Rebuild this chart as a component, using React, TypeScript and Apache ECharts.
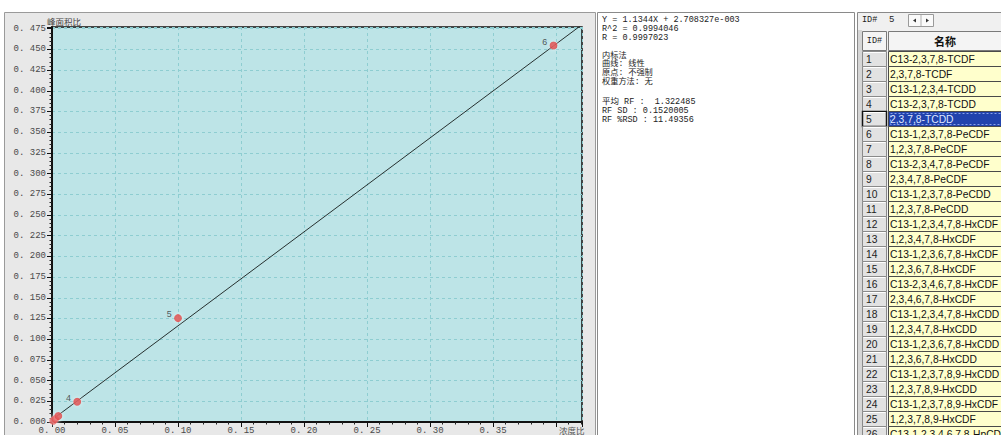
import React, { useEffect, useRef } from "react";
import * as echarts from "echarts";

// Calibration levels of 2,3,7,8-TCDD (concentration ratio vs. peak-area ratio)
const pointIds = ["1", "2", "3", "4", "5", "6"];
const concRatio = [0.001, 0.0025, 0.005, 0.02, 0.1, 0.398];
const areaRatio = [0.0015, 0.0035, 0.0072, 0.0245, 0.1254, 0.4546];

// Fitted regression: Y = slope * X + intercept
const slope = 1.1344;
const intercept = 2.708327e-3;

const X_MAX = 0.4206;
const Y_MAX = 0.477;
const X_STEP = 0.05;
const Y_STEP = 0.025;

const xTitle = "浓度比";
const yTitle = "峰面积比";

const fitLines = ["Y = 1.1344X + 2.708327e-003", "R^2 = 0.9994046", "R = 0.9997023"];
const methodLines = ["内标法", "曲线: 线性", "原点: 不强制", "权重方法: 无"];
const rfLines = ["平均 RF :  1.322485", "RF SD : 0.1520005", "RF %RSD : 11.49356"];

const compoundNames = [
  "C13-2,3,7,8-TCDF",
  "2,3,7,8-TCDF",
  "C13-1,2,3,4-TCDD",
  "C13-2,3,7,8-TCDD",
  "2,3,7,8-TCDD",
  "C13-1,2,3,7,8-PeCDF",
  "1,2,3,7,8-PeCDF",
  "C13-2,3,4,7,8-PeCDF",
  "2,3,4,7,8-PeCDF",
  "C13-1,2,3,7,8-PeCDD",
  "1,2,3,7,8-PeCDD",
  "C13-1,2,3,4,7,8-HxCDF",
  "1,2,3,4,7,8-HxCDF",
  "C13-1,2,3,6,7,8-HxCDF",
  "1,2,3,6,7,8-HxCDF",
  "C13-2,3,4,6,7,8-HxCDF",
  "2,3,4,6,7,8-HxCDF",
  "C13-1,2,3,4,7,8-HxCDD",
  "1,2,3,4,7,8-HxCDD",
  "C13-1,2,3,6,7,8-HxCDD",
  "1,2,3,6,7,8-HxCDD",
  "C13-1,2,3,7,8,9-HxCDD",
  "1,2,3,7,8,9-HxCDD",
  "C13-1,2,3,7,8,9-HxCDF",
  "1,2,3,7,8,9-HxCDF",
  "C13-1,2,3,4,6,7,8-HpCDF",
];
const selectedId = 5;

const MONO = "'Liberation Mono', 'Noto Sans CJK SC', monospace";
const CJK = "'Noto Sans CJK SC', sans-serif";
const SANS = "'Liberation Sans', Arial, sans-serif";

function fmtTick(v: number, step: number, digits: number, lastIndex: number) {
  const k = Math.round(v / step);
  if (Math.abs(v - k * step) > 1e-7 || k > lastIndex) return "";
  return (k * step).toFixed(digits).replace(".", ". ");
}

function buildGraphics() {
  const g: any[] = [];
  // panels
  g.push({ type: "rect", z: -5, silent: true, shape: { x: 4.5, y: 12.5, width: 591, height: 430 }, style: { fill: "#e8e8e8", stroke: "#9a9a9a", lineWidth: 1 } });
  g.push({ type: "rect", z: -5, silent: true, shape: { x: 597.5, y: 12.5, width: 257, height: 430 }, style: { fill: "#ffffff", stroke: "#8a8a8a", lineWidth: 1 } });
  g.push({ type: "rect", z: -5, silent: true, shape: { x: 857.5, y: 12.5, width: 150, height: 430 }, style: { fill: "#f0f0f0", stroke: "#8a8a8a", lineWidth: 1 } });

  // axis titles
  g.push({ type: "text", style: { x: 47, y: 21, text: yTitle, fill: "#444", fontSize: 8.5, fontFamily: CJK, verticalAlign: "middle" } });
  g.push({ type: "text", style: { x: 559, y: 430, text: xTitle, fill: "#555", fontSize: 8.5, fontFamily: CJK, verticalAlign: "middle" } });

  // regression summary
  const addLines = (lines: string[], y0: number, dy: number, size: number) => {
    lines.forEach((t, i) => {
      g.push({ type: "text", style: { x: 602, y: y0 + i * dy, text: t, fill: "#222", fontSize: size, fontFamily: MONO, verticalAlign: "middle" } });
    });
  };
  addLines(fitLines, 20, 9, 8.5);
  addLines(methodLines, 55, 8.8, 8.2);
  addLines(rfLines, 102, 9.2, 8.5);

  // compound list header bar
  g.push({ type: "text", style: { x: 862, y: 20, text: "ID#", fill: "#222", fontSize: 8.5, fontFamily: MONO, verticalAlign: "middle" } });
  g.push({ type: "text", style: { x: 889, y: 20, text: String(selectedId), fill: "#222", fontSize: 9, fontFamily: MONO, verticalAlign: "middle" } });
  g.push({ type: "rect", shape: { x: 908.5, y: 14.5, width: 25, height: 12 }, style: { fill: "#fafafa", stroke: "#9a9a9a", lineWidth: 1 } });
  g.push({ type: "line", shape: { x1: 921, y1: 15, x2: 921, y2: 26 }, style: { stroke: "#b0b0b0", lineWidth: 1 } });
  g.push({ type: "polygon", shape: { points: [[913, 20.5], [916, 18.5], [916, 22.5]] }, style: { fill: "#333" } });
  g.push({ type: "polygon", shape: { points: [[929, 20.5], [926, 18.5], [926, 22.5]] }, style: { fill: "#333" } });

  // table frame
  g.push({ type: "rect", shape: { x: 858, y: 30, width: 4, height: 406 }, style: { fill: "#d6d6d6" } });
  g.push({ type: "rect", shape: { x: 862.5, y: 31.5, width: 24, height: 19 }, style: { fill: "#f4f4f4", stroke: "#7a7a7a", lineWidth: 1 } });
  g.push({ type: "rect", shape: { x: 888.5, y: 31.5, width: 120, height: 19 }, style: { fill: "#f4f4f4", stroke: "#7a7a7a", lineWidth: 1 } });
  g.push({ type: "text", style: { x: 874.5, y: 41, text: "ID#", fill: "#222", fontSize: 8.5, fontFamily: MONO, align: "center", verticalAlign: "middle" } });
  g.push({ type: "text", style: { x: 945, y: 41, text: "名称", fill: "#111", fontSize: 11, fontWeight: "bold", fontFamily: CJK, align: "center", verticalAlign: "middle" } });

  compoundNames.forEach((name, i) => {
    const id = i + 1;
    const y = 51 + i * 15;
    const sel = id === selectedId;
    g.push({ type: "rect", shape: { x: 862.5, y: y + 0.5, width: 24, height: 15 }, style: { fill: "#e2e2e2", stroke: sel ? "#111" : "#8a8a8a", lineWidth: sel ? 1.5 : 1 } });
    g.push({ type: "line", shape: { x1: 863.5, y1: y + 1.5, x2: 885.5, y2: y + 1.5 }, style: { stroke: "#ffffff", lineWidth: 1 } });
    g.push({ type: "text", style: { x: 866, y: y + 8, text: String(id), fill: "#222", fontSize: 10.3, fontFamily: SANS, verticalAlign: "middle" } });
    g.push({ type: "rect", shape: { x: 888.5, y: y + 0.5, width: 120, height: 15 }, style: { fill: sel ? "#2143ad" : "#ffffcc", stroke: "#4a4a4a", lineWidth: 1 } });
    if (sel) {
      g.push({ type: "rect", shape: { x: 890.5, y: y + 2.5, width: 115, height: 11 }, style: { fill: "none", stroke: "#8aa2e8", lineWidth: 1, lineDash: [2, 2] } });
    }
    g.push({ type: "text", style: { x: 890, y: y + 8, text: name, fill: sel ? "#dfe6ff" : "#111", fontSize: 10.3, fontFamily: SANS, verticalAlign: "middle" } });
  });
  return g;
}

export default function App() {
  const ref = useRef<HTMLDivElement>(null);

  useEffect(() => {
    if (!ref.current) return;
    const chart = echarts.init(ref.current, null, { renderer: "svg" });

    const points = concRatio.map((x, i) => ({
      value: [x, areaRatio[i]],
      // the three lowest levels sit in the corner; their tags fall outside the plot
      label: { show: i >= 3 },
    }));
    const fitLine = [
      [0, intercept],
      [X_MAX, slope * X_MAX + intercept],
    ];

    const axisCommon = {
      type: "value" as const,
      axisLine: { show: true, onZero: false, lineStyle: { color: "#111", width: 2 } },
      axisTick: { show: true, inside: false, length: 5, lineStyle: { color: "#111", width: 1 } },
      minorTick: { show: true, splitNumber: 5, length: 2.5, lineStyle: { color: "#222", width: 1 } },
      splitLine: { show: true, lineStyle: { color: "#8ecdd1", width: 1, type: [3, 3] } },
      minorSplitLine: { show: false },
    };

    chart.setOption({
      animation: false,
      backgroundColor: "#ffffff",
      grid: {
        left: 52,
        top: 27,
        right: 419,
        bottom: 13,
        show: true,
        backgroundColor: "#bde4e7",
        borderColor: "#111",
        borderWidth: 1.5,
        containLabel: false,
        outerBoundsMode: "none",
      },
      xAxis: {
        ...axisCommon,
        min: 0,
        max: X_MAX,
        interval: X_STEP,
        axisLabel: {
          formatter: (v: number) => fmtTick(v, X_STEP, 2, 7),
          fontFamily: MONO,
          fontSize: 9,
          color: "#4a4a4a",
          margin: 4,
        },
      },
      yAxis: {
        ...axisCommon,
        min: 0,
        max: Y_MAX,
        interval: Y_STEP,
        axisLabel: {
          formatter: (v: number) => fmtTick(v, Y_STEP, 3, 19),
          fontFamily: MONO,
          fontSize: 9,
          color: "#4a4a4a",
          margin: 6,
        },
      },
      series: [
        {
          type: "line",
          data: fitLine,
          showSymbol: false,
          clip: true,
          silent: true,
          z: 2,
          lineStyle: { color: "#26302f", width: 1 },
        },
        {
          type: "scatter",
          data: points,
          symbolSize: 8,
          z: 3,
          itemStyle: { color: "#e01d1b", shadowBlur: 4, shadowColor: "rgba(255,255,255,0.75)" },
          label: {
            formatter: (p: any) => pointIds[p.dataIndex],
            position: "left",
            distance: 2,
            offset: [0, -3],
            fontSize: 9,
            fontFamily: MONO,
            color: "#333",
          },
        },
      ],
      graphic: buildGraphics(),
    });

    return () => chart.dispose();
  }, []);

  return <div ref={ref} style={{ position: "fixed", left: 0, top: 0, width: 1001, height: 435 }} />;
}
